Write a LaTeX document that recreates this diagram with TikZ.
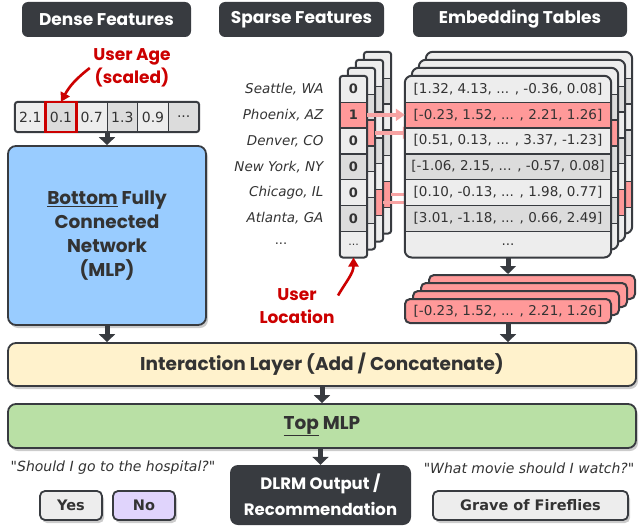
\documentclass[tikz,border=0pt]{standalone}
\usepackage{fontspec}
\setmainfont{DejaVu Sans}
\newfontfamily\handfont{Poppins}
\newfontfamily\plainfont{DejaVu Sans}
\usetikzlibrary{arrows.meta,shadows,positioning}

\definecolor{ink}{HTML}{383B40}
\definecolor{txt}{HTML}{333333}
\definecolor{cellA}{HTML}{EDEDED}
\definecolor{cellB}{HTML}{DCDCDC}
\definecolor{hot}{HTML}{FF9999}
\definecolor{hotline}{HTML}{F7A3A3}
\definecolor{alert}{HTML}{CC0000}
\definecolor{mlpblue}{HTML}{99CCFF}
\definecolor{cream}{HTML}{FFF2CC}
\definecolor{mlpgreen}{HTML}{B9E0A5}
\definecolor{lav}{HTML}{E0D4FC}
\newcommand{\etc}{...}

\begin{document}
\begin{tikzpicture}[x=1pt, y=-1pt,
    hdr/.style={fill=ink, rounded corners=6pt, text=white, minimum height=35pt,
      font=\handfont\bfseries\fontsize{17}{20}\selectfont},
    shade/.style={drop shadow={shadow xshift=2pt, shadow yshift=-3pt, fill=black!20, opacity=1}},
    block/.style={draw=ink, line width=1.8pt, rounded corners=8pt, text=txt, align=center,
      font=\handfont\bfseries\fontsize{18.5}{24}\selectfont, shade},
    note/.style={text=alert, align=center, font=\handfont\bfseries\fontsize{17}{23}\selectfont},
    dcell/.style={minimum width=30.67pt, minimum height=30pt, inner sep=0pt, text=txt,
      font=\fontsize{14}{16}\selectfont},
    scell/.style={minimum width=27pt, minimum height=25.9pt, inner sep=0pt},
    erow/.style={minimum width=206pt, minimum height=25.9pt, inner sep=0pt},
    svec/.style={fill=cellA, minimum width=27pt, minimum height=181.3pt, inner sep=0pt},
    etbl/.style={fill=cellA, minimum width=206pt, minimum height=181.3pt, inner sep=0pt},
    sep/.style={draw=ink, line width=1.2pt},
    frame/.style={draw=ink, line width=2pt},
    num/.style={text=txt, font=\bfseries\fontsize{13}{15}\selectfont},
    vals/.style={text=txt, font=\fontsize{13.5}{15}\selectfont},
    city/.style={anchor=east, text=txt, font=\itshape\fontsize{13.5}{15}\selectfont},
    pooled/.style={draw=ink, fill=hot, line width=2pt, rounded corners=5pt, minimum width=206pt,
      minimum height=24pt, text=txt, font=\fontsize{13.5}{15}\selectfont},
    link/.style={draw=hotline, line width=3.5pt, -{Triangle[width=12pt,length=9pt]}},
    flow/.style={draw=ink, line width=5pt, -{Triangle[width=16pt,length=8pt]}},
    redarr/.style={draw=alert, line width=2.6pt, -{Triangle[width=10pt,length=9pt]}},
    quote/.style={text=txt, font=\plainfont\itshape\fontsize{14}{16}\selectfont},
    answer/.style={draw=ink, line width=1.8pt, rounded corners=5pt, minimum height=29pt, text=txt,
      font=\bfseries\fontsize{14.5}{18}\selectfont, shade},
  ]
  \useasboundingbox (0,0) rectangle (639,527);

  % headers
  \node[hdr, minimum width=169pt] (hdense) at (106.5,19.5) {Dense Features};
  \node[hdr, minimum width=165pt] (hsparse) at (301.5,19.5) {Sparse Features};
  \node[hdr, minimum width=214pt] (hemb) at (520,19.5) {Embedding Tables};

  % dense input
  \node[fill=cellA, minimum width=184pt, minimum height=30pt, inner sep=0pt] (dv) at (107,117) {};
  \foreach \t [count=\i from 0] in {2.1,0.1,0.7,1.3,0.9,\etc}{
    \ifodd\i\def\cf{cellB}\else\def\cf{cellA}\fi
    \node[dcell, fill=\cf] (d\i) at ({30.33+30.67*\i},117) {\t};
  }
  \foreach \i in {0,...,4}
    \draw[sep] (d\i.north east) -- (d\i.south east);
  \draw[frame, rounded corners=3pt] (dv.north west) rectangle (dv.south east);
  \draw[alert, line width=2.2pt] (d1.north west) rectangle (d1.south east);

  \node[note] (age) at (132,68) {User Age\\(scaled)};
  \draw[redarr] (age.west) to[bend right=12] (d1.north);

  \node[block, fill=mlpblue, minimum width=198pt, minimum height=179pt] (bmlp) at (107,235.5)
    {\underline{Bottom} Fully\\Connected\\Network\\(MLP)};
  \draw[flow] (dv) -- (bmlp);

  % sparse inputs
  \foreach \r/\t in {0/{Seattle, WA},1/{Phoenix, AZ},2/{Denver, CO},3/{New York, NY},4/{Chicago, IL},5/{Atlanta, GA}}
    \node[city] (c\r) at (327,{89+25.9*\r}) {\t};
  \node[text=txt, font=\fontsize{13}{15}\selectfont] (c6) at (281,244) {\etc};

  % stacked one-hot vectors and tables, back to front
  \foreach \k/\hot in {3/5,2/5,1/2,0/1}{
    \begin{scope}[shift={(8*\k,-8*\k)}]
      \node[svec] (sb\k) at (353.5,166.65) {};
      \foreach \r in {0,...,6}{
        \ifnum\r=\hot\relax\def\cf{hot}\else\ifnum\r=0 \def\cf{none}\else\ifnum\r=6 \def\cf{none}\else
          \ifodd\r\def\cf{cellB}\else\def\cf{cellA}\fi\fi\fi\fi
        \node[scell, fill=\cf] (s\k-\r) at (353.5,{88.95+25.9*\r}) {};
      }
      \foreach \r in {0,...,5}
        \draw[sep] (s\k-\r.south west) -- (s\k-\r.south east);
      \draw[frame, rounded corners=3pt] (sb\k.north west) rectangle (sb\k.south east);
    \end{scope}
    \begin{scope}[shift={(7*\k,-8*\k)}]
      \node[etbl, rounded corners=7pt] (tb\k) at (508,166.65) {};
      \foreach \r in {0,...,6}{
        \ifnum\r=\hot\relax\def\cf{hot}\else\ifnum\r=0 \def\cf{none}\else\ifnum\r=6 \def\cf{none}\else
          \ifodd\r\def\cf{cellB}\else\def\cf{cellA}\fi\fi\fi\fi
        \node[erow, fill=\cf] (e\k-\r) at (508,{88.95+25.9*\r}) {};
      }
      \foreach \r in {0,...,5}
        \draw[sep] (e\k-\r.south west) -- (e\k-\r.south east);
      \draw[frame, rounded corners=7pt] (tb\k.north west) rectangle (tb\k.south east);
    \end{scope}
    \draw[link] (s\k-\hot.east) -- (e\k-\hot.west);
  }
  \foreach \r/\t in {0/0,1/1,2/0,3/0,4/0,5/0}
    \node[num] (sn\r) at (s0-\r) {\t};
  \node[text=txt, font=\fontsize{11}{12}\selectfont] (sn6) at (s0-6) {\etc};
  \foreach \r/\t in {0/{[1.32, 4.13, \etc{} , -0.36, 0.08]},1/{[-0.23, 1.52, \etc{} , 2.21, 1.26]},
      2/{[0.51, 0.13, \etc{} , 3.37, -1.23]},3/{[-1.06, 2.15, \etc{} , -0.57, 0.08]},
      4/{[0.10, -0.13, \etc{} , 1.98, 0.77]},5/{[3.01, -1.18, \etc{} , 0.66, 2.49]},6/{\etc}}
    \node[vals] (et\r) at (e0-\r) {\t};

  \node[note] (loc) at (297,306.5) {User\\Location};
  \draw[redarr] (loc.15) to[out=60, in=-90] (s0-6.south);

  % pooled embeddings
  \foreach \k in {3,2,1}
    \node[pooled] (p\k) at ({508+8*\k},{311-8*\k}) {};
  \node[pooled] (p0) at (508,311) {[-0.23, 1.52, \etc{} , 2.21, 1.26]};
  \draw[flow] (tb0.south) -- (tb0.south |- p3.north);

  % top of the model
  \node[block, fill=cream, minimum width=628pt, minimum height=43pt] (inter) at (322,364.5)
    {Interaction Layer (Add / Concatenate)};
  \draw[flow] (bmlp) -- (bmlp |- inter.north);
  \draw[flow] (p0) -- (p0 |- inter.north);

  \node[block, fill=mlpgreen, minimum width=628pt, minimum height=44pt] (topmlp) at (322,426)
    {\underline{Top} MLP};
  \draw[flow] (inter) -- (topmlp);

  \node[fill=ink, rounded corners=8pt, minimum width=181pt, minimum height=60pt, text=white, align=center,
    font=\handfont\bfseries\fontsize{16.5}{26}\selectfont] (out) at (320.5,495) {DLRM Output /\\Recommendation};
  \draw[flow] (topmlp.south -| out.north) -- (out.north);

  % examples
  \node[quote] (q1) at (113,468) {"Should I go to the hospital?"};
  \node[answer, fill=cellA, minimum width=62pt] (yes) at (71,505.5) {Yes};
  \node[answer, fill=lav, minimum width=62pt] (no) at (144,505.5) {No};
  \node[quote] (q2) at (529,468) {"What movie should I watch?"};
  \node[answer, fill=cellA, minimum width=195pt] (grave) at (530.5,505.5) {Grave of Fireflies};
\end{tikzpicture}
\end{document}
